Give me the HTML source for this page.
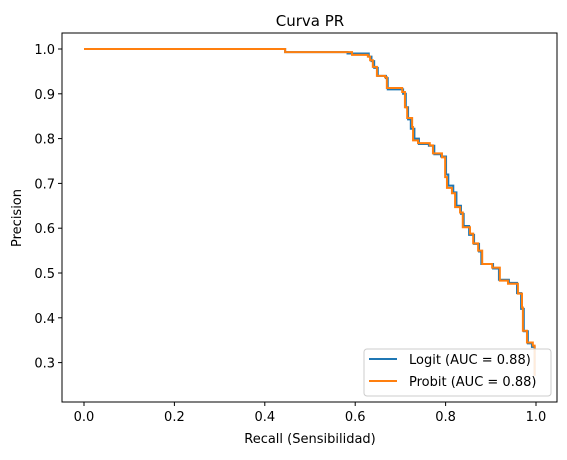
<!DOCTYPE html>
<html><head><meta charset="utf-8"><style>
body{margin:0;background:#fff;}
svg text{font-family:"DejaVu Sans","Liberation Sans",sans-serif;fill:#000;}
</style></head><body>
<svg id="chart" width="567" height="455" xmlns="http://www.w3.org/2000/svg">
<rect x="0" y="0" width="567" height="455" fill="#fff"/>
<text x="310" y="26" font-size="15" text-anchor="middle">Curva PR</text>
<g id="grid"></g>
<g id="series"></g>
<rect x="62" y="33" width="495" height="369" fill="none" stroke="#000" stroke-width="1"/>
<text x="310" y="443" font-size="13" text-anchor="middle">Recall (Sensibilidad)</text>
<text x="21" y="218" font-size="13" text-anchor="middle" transform="rotate(-90 21 218)">Precision</text>
<g>
<rect x="364" y="349" width="187" height="47" rx="3" fill="#fff" fill-opacity="0.85" stroke="#ccc"/>
<line x1="369" y1="359" x2="397" y2="359" stroke="#1f77b4" stroke-width="2"/>
<text x="409" y="364" font-size="13">Logit (AUC = 0.88)</text>
<line x1="369" y1="381" x2="397" y2="381" stroke="#ff7f0e" stroke-width="2"/>
<text x="409" y="386" font-size="13">Probit (AUC = 0.88)</text>
</g>
</svg>
<script>
const xTicks=[0,0.2,0.4,0.6,0.8,1.0];
const xTickLabels=["0.0","0.2","0.4","0.6","0.8","1.0"];
const yTicks=[0.3,0.4,0.5,0.6,0.7,0.8,0.9,1.0];
const yTickLabels=["0.3","0.4","0.5","0.6","0.7","0.8","0.9","1.0"];
const probitRecall=[0,0.445,0.593,0.628,0.633,0.639,0.648,0.666,0.670,0.704,0.710,0.715,0.726,0.728,0.739,0.765,0.772,0.792,0.799,0.803,0.814,0.821,0.832,0.838,0.854,0.861,0.872,0.881,0.903,0.920,0.938,0.960,0.969,0.971,0.980,0.993,0.997];
const probitPrecision=[1.0,0.993,0.987,0.983,0.975,0.96,0.94,0.937,0.913,0.904,0.87,0.846,0.826,0.796,0.79,0.785,0.767,0.758,0.714,0.69,0.678,0.647,0.635,0.602,0.588,0.566,0.55,0.52,0.512,0.483,0.476,0.454,0.423,0.371,0.345,0.338,0.27];
const logitRecall=[0,0.445,0.583,0.630,0.636,0.642,0.650,0.668,0.672,0.706,0.712,0.717,0.723,0.731,0.741,0.763,0.775,0.790,0.801,0.806,0.817,0.824,0.834,0.840,0.852,0.863,0.874,0.879,0.905,0.918,0.940,0.958,0.967,0.973,0.982,0.991,0.997];
const logitPrecision=[1.0,0.993,0.99,0.983,0.973,0.958,0.94,0.935,0.91,0.9,0.87,0.843,0.822,0.8,0.788,0.784,0.765,0.76,0.72,0.695,0.68,0.65,0.632,0.605,0.585,0.565,0.548,0.52,0.51,0.485,0.478,0.455,0.42,0.37,0.343,0.335,0.27];

const NS="http://www.w3.org/2000/svg";
const X=v=>84+v*452;
const Y=v=>49+(1-v)*448;
const grid=document.getElementById('grid');
function mk(tag,attrs,parent){const e=document.createElementNS(NS,tag);for(const k in attrs)e.setAttribute(k,attrs[k]);parent.appendChild(e);return e;}
xTicks.forEach((t,i)=>{
  const l=mk('line',{x1:X(t),x2:X(t),y1:402,y2:406,stroke:'#000'},grid);
  
  
  const tx=mk('text',{x:X(t),y:421,'font-size':13,'text-anchor':'middle'},grid);
  tx.textContent=xTickLabels[i];
  
  
});
yTicks.forEach((t,i)=>{
  const l=mk('line',{x1:58,x2:62,y1:Y(t),y2:Y(t),stroke:'#000'},grid);
  
  
  const tx=mk('text',{x:55,y:Y(t)+5,'font-size':13,'text-anchor':'end'},grid);
  tx.textContent=yTickLabels[i];
  
  
});
function stepPath(r,p){let d='M'+X(r[0])+','+Y(p[0]);for(let i=1;i<r.length;i++){d+=' H'+X(r[i])+' V'+Y(p[i]);}return d;}
const g=document.getElementById('series');
const a=mk('path',{d:stepPath(logitRecall,logitPrecision),fill:'none',stroke:'#1f77b4','stroke-width':2},g);


const b=mk('path',{d:stepPath(probitRecall,probitPrecision),fill:'none',stroke:'#ff7f0e','stroke-width':2},g);


</script>
</body></html>
